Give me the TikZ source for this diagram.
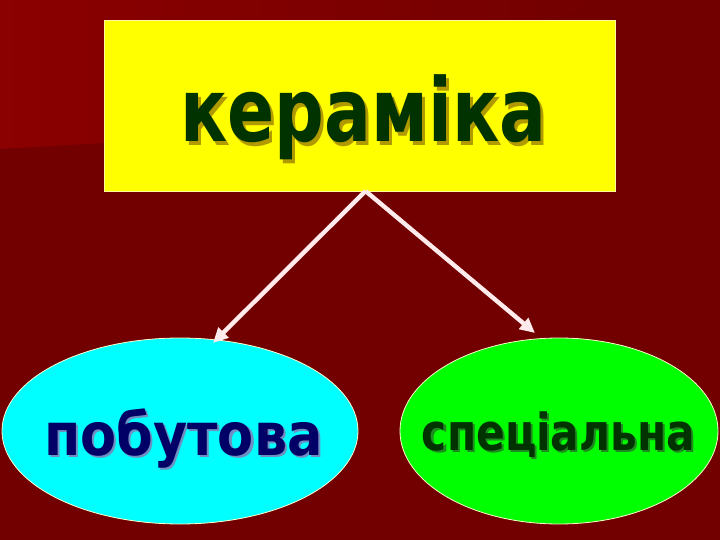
\documentclass[tikz,border=0pt]{standalone}
\usepackage{fontspec}
\setmainfont{DejaVu Sans}
\usetikzlibrary{arrows.meta,shapes.geometric}
\definecolor{bgdark}{HTML}{720000}
\definecolor{bglight}{HTML}{8B0000}
\definecolor{boxyellow}{HTML}{FFFF00}
\definecolor{ecyan}{HTML}{00FFFF}
\definecolor{egreen}{HTML}{00FF00}
\definecolor{txtgreen}{HTML}{003300}
\definecolor{txtnavy}{HTML}{000066}
\definecolor{shyellow}{HTML}{B09A00}
\definecolor{shblue}{HTML}{6F8FC0}
\definecolor{shgreen}{HTML}{1F8A1F}
\newcommand{\shadowtext}[4]{\rlap{\kern#3\raisebox{-#3}{\color{#2}#1}}{\color{#4}#1}}
\tikzset{
  shapebox/.style={draw=white!60!yellow, line width=0.8pt, inner sep=0pt},
  ovalbox/.style={ellipse, draw=white!80!yellow, line width=0.8pt, inner sep=0pt},
  label/.style={anchor=base, inner sep=0pt, font=\bfseries},
  arrowline/.style={draw=white!92!red, line width=4.4pt,
     -{Triangle[length=15pt,width=14pt]}}
}
\begin{document}
\begin{tikzpicture}[x=1pt,y=-1pt]
\useasboundingbox (0,0) rectangle (720,540);
\fill[bgdark] (0,0) rectangle (720,540);
\shade[left color=bglight, right color=bgdark] (0,0) -- (620,0) -- (104,143) -- (0,149) -- cycle;

\node[shapebox, fill=boxyellow, minimum width=511pt, minimum height=171pt] (top) at (359.5,105.5) {};
\node[ovalbox, fill=ecyan, minimum width=356pt, minimum height=186pt] (left) at (180,431) {};
\node[ovalbox, fill=egreen, minimum width=318pt, minimum height=186pt] (right) at (559,431) {};

% texts with shadows
\node[label] (toptxt) at (363.5,142) {\fontsize{88}{96}\selectfont\scalebox{0.79}[1]{\shadowtext{кераміка}{shyellow}{3.5pt}{txtgreen}}};
\node[label] (lefttxt) at (183.5,455) {\fontsize{59}{66}\selectfont\scalebox{0.89}[1]{\shadowtext{побутова}{shblue}{2.5pt}{txtnavy}}};
\node[label] (righttxt) at (558.5,450) {\fontsize{51}{58}\selectfont\scalebox{0.83}[1]{\shadowtext{спеціальна}{shgreen}{2.5pt}{txtgreen}}};

% arrows
\coordinate (s) at (365.5,191);
\coordinate (e1) at (213,343);
\coordinate (e2) at (535,333);
\draw[arrowline] (s) -- (e1);
\draw[arrowline] (s) -- (e2);
\end{tikzpicture}
\end{document}
